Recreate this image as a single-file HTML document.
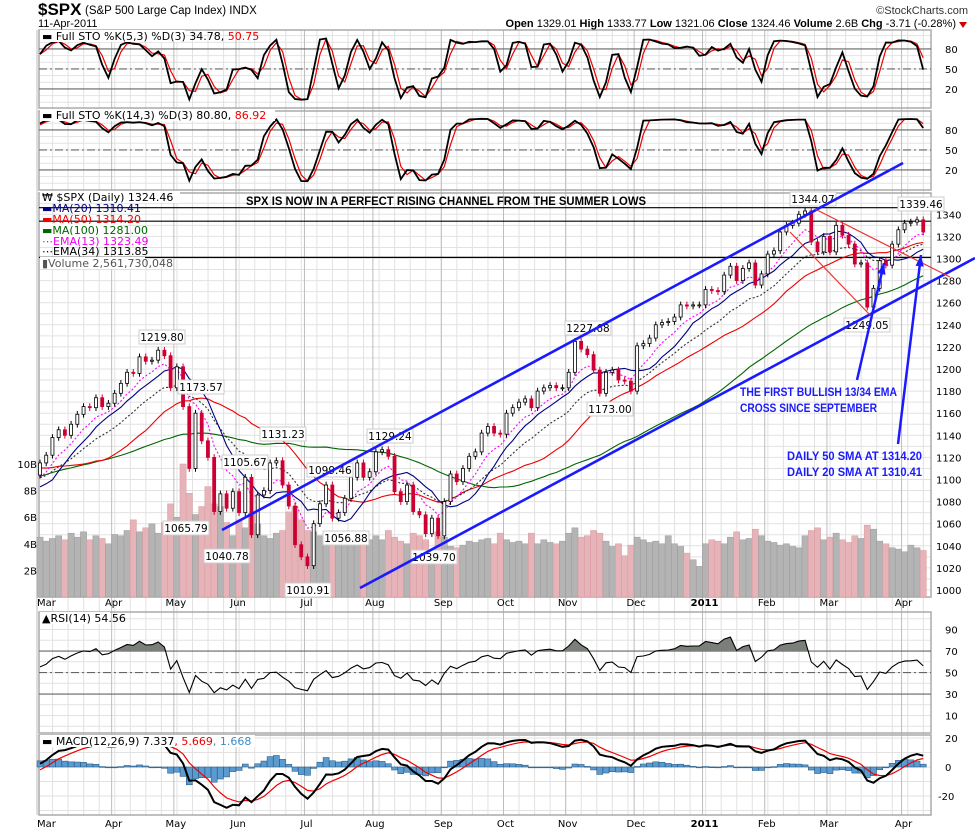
<!DOCTYPE html>
<html><head><meta charset="utf-8"><title>$SPX chart</title>
<style>
html,body{margin:0;padding:0;background:#fff;}
svg{display:block;font-family:"DejaVu Sans","Liberation Sans",sans-serif;}
.ax{font-size:10px;fill:#000;}
.hdr{font-family:"Liberation Sans",sans-serif;}
</style></head>
<body>
<svg id="chart" width="975" height="832" viewBox="0 0 975 832" xmlns="http://www.w3.org/2000/svg">
<rect x="0" y="0" width="975" height="832" fill="#fff"/>
<g id="grid"></g>
<g id="marks"></g>
<!-- header -->
<text x="38" y="15" class="hdr" font-size="17" font-weight="bold">$SPX</text>
<text x="85" y="14" class="hdr" font-size="11.5">(S&amp;P 500 Large Cap Index) INDX</text>
<text x="38" y="27" class="hdr" font-size="11">11-Apr-2011</text>
<text x="968" y="14" class="hdr" font-size="11" text-anchor="end" fill="#333">©StockCharts.com</text>
<text x="956" y="27" class="hdr" font-size="11" text-anchor="end"><tspan font-weight="bold">Open</tspan> 1329.01 <tspan font-weight="bold">High</tspan> 1333.77 <tspan font-weight="bold">Low</tspan> 1321.06 <tspan font-weight="bold">Close</tspan> 1324.46 <tspan font-weight="bold">Volume</tspan> 2.6B <tspan font-weight="bold">Chg</tspan> -3.71 (-0.28%)</text>
<path d="M959 22 L967 22 L963 28 Z" fill="#c00"/>
<g id="overlay"></g>
</svg>
<script>
// ---------- data ----------
const priorCloses = [1097,1092,1080,1066,1036,1045,1066,1069,1093,1087,1098,1109,1093,1106,1105,1091,1110,1104,1097,1099,1102,1107,1115,1104,1114,1102,1097,1110,1118,1126,1127,1115,1133,1137,1146,1148,1137,1136,1150,1116,1096,1092,1097,1073,1094,1103,1063,1071,1075,1094,1109,1105,1104];
const closes = [
1115,1122,1138,1145,1140,1150,1159,1166,1165,1174,1166,1169,
1178,1187,1197,1196,1211,1207,1208,1217,1212,1183,
1202,1166,1110,1160,1135,1120,1071,1087,1074,1089,
1070,1102,1050,1086,1090,1115,1117,1095,1076,1041,1030,
1022,1060,1078,1095,1065,1070,1083,1102,1115,1102,1107,
1125,1127,1121,1089,1080,1095,1071,1068,1051,1065,1049,
1080,1105,1098,1110,1121,1125,1142,1148,1142,1141,
1160,1165,1170,1173,1165,1180,1183,1185,1183,1183,
1197,1225,1218,1213,1199,1178,1197,1199,1190,1189,1180,
1221,1223,1228,1240,1242,1243,1247,1258,1257,1258,1258,
1272,1271,1270,1285,1293,1280,1291,1296,1276,1286,
1304,1307,1324,1330,1332,1340,1343,1315,1306,1320,
1306,1330,1321,1313,1295,1296,1256,1273,1298,1294,1313,1326,
1332,1333,1335,1324];
const volumes = [
4.5,4.2,4.4,4.6,4.3,4.8,4.5,4.9,4.3,4.6,4.4,4.0,
4.7,4.6,5.0,5.8,4.9,5.2,5.5,4.8,5.6,7.0,
6.0,10.0,7.8,6.2,6.8,8.3,7.0,6.8,5.6,4.6,
5.8,5.2,6.3,5.5,4.6,4.4,4.8,5.0,6.4,6.8,5.8,
5.0,4.9,4.6,4.7,4.8,4.3,4.6,4.2,4.5,4.4,4.3,
4.6,4.3,5.0,4.5,4.2,4.0,4.8,4.6,4.3,3.5,4.9,
4.5,3.8,3.7,3.9,4.2,4.1,4.3,4.4,4.0,4.8,
4.3,4.1,4.2,4.0,4.8,4.0,4.3,4.1,4.0,4.2,
4.8,5.2,4.5,4.6,5.0,4.8,4.2,3.8,4.0,3.1,3.9,
4.5,4.3,4.1,4.2,4.0,4.6,4.0,3.8,3.3,2.8,2.3,
4.0,4.3,4.2,4.0,4.5,4.9,4.3,4.4,5.1,4.6,
4.2,4.1,3.9,4.0,3.8,3.7,4.6,5.0,5.2,4.3,
4.5,4.8,4.3,4.1,4.6,4.4,5.4,5.1,4.2,4.0,3.7,3.6,
3.4,3.9,3.7,3.5];
const monthLabels = ["Mar","Apr","May","Jun","Jul","Aug","Sep","Oct","Nov","Dec","2011","Feb","Mar","Apr"];
const monthStarts = [0,12,22,32,43,54,65,75,85,96,107,117,127,139];
const priceTicks = [1000,1020,1040,1060,1080,1100,1120,1140,1160,1180,1200,1220,1240,1260,1280,1300,1320,1340];
const volTicks = [2,4,6,8,10];
const stoTicks = [20,50,80];
const rsiTicks = [10,30,50,70,90];
const macdTicks = [-20,0,20];

// ---------- scales ----------
const L = 39, R = 931;
const X = i => 40 + i*6.22;
const PY = p => 590 - (p-1000)*1.105;
const VY = v => 597 - v*13.3;
const S1Y = v => 102.3 - v*0.667;
const S2Y = v => 183.3 - v*0.667;
const RY = v => 726.3 - v*1.075;
const MY = v => 767 - v*1.45;

const NS = "http://www.w3.org/2000/svg";
const grid = document.getElementById('grid');
const marks = document.getElementById('marks');
const overlay = document.getElementById('overlay');
function mk(parent, tag, attrs, txt){
  const e = document.createElementNS(NS, tag);
  for (const k in attrs) e.setAttribute(k, attrs[k]);
  if (txt !== undefined) e.textContent = txt;
  parent.appendChild(e);
  return e;
}

// ---------- indicators ----------
const full = priorCloses.concat(closes);
const P = priorCloses.length;
const N = full.length;
const opens = full.map((c,i)=> i===0 ? c : full[i-1]);
const highs = full.map((c,i)=> Math.max(c,opens[i]) + 3);
const lows = full.map((c,i)=> Math.min(c,opens[i]) - 3);
function sma(a,n){ return a.map((v,i)=>{ if(i<n-1) return null; let s=0,k=0; for(let j=i-n+1;j<=i;j++){ if(a[j]===null) return null; s+=a[j]; k++;} return s/k; }); }
function ema(a,n){ const k=2/(n+1); let out=[], prev=null; a.forEach((v,i)=>{ if(v===null){out.push(null);return;} prev = prev===null? v : v*k+prev*(1-k); out.push(prev); }); return out; }
function sto(n,s,d){
  const raw = full.map((c,i)=>{ if(i<n-1) return null; let hh=-1e9,ll=1e9; for(let j=i-n+1;j<=i;j++){hh=Math.max(hh,highs[j]);ll=Math.min(ll,lows[j]);} return 100*(c-ll)/(hh-ll); });
  const k = sma(raw,s); const dd = sma(k,d); return [k,dd];
}
const ma20 = sma(full,10), ma50 = sma(full,25), ma100 = sma(full,50);
const ema13 = ema(full,7), ema34 = ema(full,17);
const [k1,d1] = sto(3,2,2);
const [k2,d2] = sto(7,2,2);
// RSI
const rsi = (function(){ const n=11; let ag=0, al=0; const out=[null]; for(let i=1;i<N;i++){ const ch=full[i]-full[i-1]; const g=Math.max(ch,0), l=Math.max(-ch,0); if(i<=n){ ag+=g/n; al+=l/n; out.push(i<n?null:100-100/(1+ag/(al||1e-9))); } else { ag=(ag*(n-1)+g)/n; al=(al*(n-1)+l)/n; out.push(100-100/(1+ag/(al||1e-9))); } } return out; })();
const e12 = ema(full,6), e26 = ema(full,13);
const macd = full.map((c,i)=> e12[i]-e26[i]);
const signal = ema(macd,5);
const hist = macd.map((m,i)=> m-signal[i]);

function pathOf(arr, yf){
  let d=""; for(let i=P;i<N;i++){ const v=arr[i]; if(v===null||v===undefined) continue; d += (d?"L":"M") + X(i-P).toFixed(1)+" "+yf(v).toFixed(1)+" "; } return d;
}

// ---------- panels ----------
const panels = [
  {name:'sto-fast-panel', top:30, bot:108},
  {name:'sto-slow-panel', top:111, bot:190},
  {name:'price-panel', top:193, bot:597},
  {name:'rsi-panel', top:612, bot:733},
  {name:'macd-panel', top:735, bot:815}
];
for (let i=0;i<143;i+=2.5){
  const ln = mk(grid,'line',{x1:X(i)-3,x2:X(i)-3,y1:30,y2:815,stroke:'#e2e2e2','stroke-width':1});
  
  
}
for (let p=1000;p<=1350;p+=10){
  const ln = mk(grid,'line',{x1:L,x2:R,y1:PY(p),y2:PY(p),stroke:'#e2e2e2'});
  
  
}
for (let v=0;v<=100;v+=10){
  [S1Y,S2Y,RY].forEach(f=>{ const y=f(v); if(y<31) return;
    const ln = mk(grid,'line',{x1:L,x2:R,y1:y,y2:y,stroke:'#e2e2e2'});
    
    
  });
}
for (let v=-30;v<=30;v+=10){ const y=MY(v); if(y<736||y>814) continue;
  const ln = mk(grid,'line',{x1:L,x2:R,y1:y,y2:y,stroke:'#e2e2e2'});
  
  
}
monthStarts.forEach((s,j)=>{
  const x = X(s)-3;
  const ln = mk(grid,'line',{x1:x,x2:x,y1:30,y2:815,stroke:'#bdbdbd'});
  
  
  [606,827].forEach(y=>{
    const t = mk(grid,'text',{x:x+(j===0?0:2),y:y,class:'ax','font-size':11,'font-weight':monthLabels[j]==='2011'?'bold':'normal','text-anchor':j===0?'start':'middle'}, monthLabels[j]);
    
    
  });
});
panels.forEach(p=>{
  const r = mk(grid,'rect',{x:L,y:p.top,width:R-L,height:p.bot-p.top,fill:'none',stroke:'#aaa','stroke-width':1.5});
  
  
});

// ---------- volume ----------
for (let j=0;j<closes.length;j++){
  const i=j+P; const down = full[i]<full[i-1];
  const v = volumes[j];
  const r = mk(marks,'rect',{x:X(j)-3.1,y:VY(v),width:6.2,height:597-VY(v),fill:down?'#e6b4b8':'#b4b4b4',stroke:down?'#d79a9f':'#9a9a9a','stroke-width':0.5});
  
  
}
volTicks.forEach(v=>{
  const t = mk(marks,'text',{x:37,y:VY(v)+4,class:'ax','text-anchor':'end'}, v+'B');
  
  
});

[1346,1333.77,1301].forEach(p=>{
  const ln = mk(marks,'line',{x1:L,x2:R,y1:PY(p),y2:PY(p),stroke:'#000','stroke-width':1.2});
  
  
});

// ---------- moving averages ----------
const maDefs = [
  [ma100,'#006600','', 'ma100-line'],
  [ma50,'#ee0000','', 'ma50-line'],
  [ema34,'#333','2,2','ema34-line'],
  [ma20,'#000080','', 'ma20-line'],
  [ema13,'#ff00ff','2,2','ema13-line']
];
maDefs.forEach(d=>{
  const pth = mk(marks,'path',{d:pathOf(d[0],PY),fill:'none',stroke:d[1],'stroke-width':1.1,'stroke-dasharray':d[2]||'none'});
  
  
});

// ---------- candles ----------
for (let j=0;j<closes.length;j++){
  const i=j+P; const o=opens[i], c=full[i]; const down = c<o;
  const x = X(j);
  const w = mk(marks,'line',{x1:x,x2:x,y1:PY(highs[i]),y2:PY(lows[i]),stroke:down?'#cc0033':'#000','stroke-width':1});
  
  
  const top = PY(Math.max(o,c)), bh = Math.max(1, Math.abs(PY(o)-PY(c)));
  const b = mk(marks,'rect',{x:x-1.5,y:top,width:3,height:bh,fill:down?'#cc0033':'#fff',stroke:down?'#cc0033':'#000','stroke-width':0.8});
  
  
}
priceTicks.forEach(p=>{
  const t = mk(marks,'text',{x:936,y:PY(p)+4,class:'ax','font-size':11}, p);
  
  
});

// ---------- stochastics ----------
[[S1Y,k1,d1,'sto-fast'],[S2Y,k2,d2,'sto-slow']].forEach(s=>{
  const f=s[0];
  stoTicks.forEach(v=>{
    const ln = mk(marks,'line',{x1:L,x2:R,y1:f(v),y2:f(v),stroke:'#666','stroke-width':1.2,'stroke-dasharray':v===50?'8,3,2,3':'none'});
    
    
    const t = mk(marks,'text',{x:945,y:f(v)+4,class:'ax','font-size':11}, v);
    
    
  });
  const dl = mk(marks,'path',{d:pathOf(s[2],f),fill:'none',stroke:'#ee0000','stroke-width':1.2});
  
  
  const kl = mk(marks,'path',{d:pathOf(s[1],f),fill:'none',stroke:'#000','stroke-width':1.8});
  
  
});

// ---------- RSI ----------
rsiTicks.forEach(v=>{
  if (v===30||v===50||v===70){
    const ln = mk(marks,'line',{x1:L,x2:R,y1:RY(v),y2:RY(v),stroke:'#666','stroke-width':1.2,'stroke-dasharray':v===50?'8,3,2,3':'none'});
    
    
  }
  const t = mk(marks,'text',{x:945,y:RY(v)+4,class:'ax','font-size':11}, v);
  
  
});
(function(){
  const defs = mk(marks,'defs',{});
  const cp = mk(defs,'clipPath',{id:'rsiHi'}); mk(cp,'rect',{x:L,y:600,width:R-L,height:RY(70)-600});
  const cp2 = mk(defs,'clipPath',{id:'rsiLo'}); mk(cp2,'rect',{x:L,y:RY(30),width:R-L,height:40});
  const line = pathOf(rsi,RY);
  const area = line + "L"+X(N-1-P)+" "+RY(70)+" L"+X(0)+" "+RY(70)+" Z";
  const a1 = mk(marks,'path',{d:area,fill:'#7a7f7a','clip-path':'url(#rsiHi)'});
  
  
  const area2 = line + "L"+X(N-1-P)+" "+RY(30)+" L"+X(0)+" "+RY(30)+" Z";
  const a2 = mk(marks,'path',{d:area2,fill:'#7a7f7a','clip-path':'url(#rsiLo)'});
  
  
  const rl = mk(marks,'path',{d:line,fill:'none',stroke:'#000','stroke-width':1.1});
  
  
})();

// ---------- MACD ----------
for (let j=0;j<closes.length;j++){
  const h = hist[j+P]; const y0=MY(0), y1=MY(h);
  const r = mk(marks,'rect',{x:X(j)-3,y:Math.min(y0,y1),width:6,height:Math.max(0.8,Math.abs(y1-y0)),fill:'#5b9bd0',stroke:'#2c5f8a','stroke-width':0.6});
  
  
}
const sig = mk(marks,'path',{d:pathOf(signal,MY),fill:'none',stroke:'#ee0000','stroke-width':1.2});


const ml = mk(marks,'path',{d:pathOf(macd,MY),fill:'none',stroke:'#000','stroke-width':2});


macdTicks.forEach(v=>{
  const t = mk(marks,'text',{x:v<0?938:945,y:MY(v)+4,class:'ax','font-size':11}, v);
  
  
});

// ---------- annotations ----------
function legend(x,y,w,parts,name){
  const r = mk(overlay,'rect',{x:x-2,y:y-10,width:w,height:12,fill:'#fff'});
  
  
  const t = mk(overlay,'text',{x:x,y:y,'font-size':11});
  
  
  parts.forEach(p=>{ const s=mk(t,'tspan',{fill:p[1]},p[0]); });
}
legend(42,40,145,[["▬ Full STO %K(5,3) %D(3) 34.78, ","#000"],["50.75","#e00"]],'sto-fast-legend');
legend(42,119,235,[["▬ Full STO %K(14,3) %D(3) 80.80, ","#000"],["86.92","#e00"]],'sto-slow-legend');
legend(42,201,140,[["₩ $SPX (Daily) 1324.46","#000"]],'price-legend');
legend(42,212,0,[["▬MA(20) 1310.41","#000080"]],'ma20-legend');
legend(42,223,0,[["▬MA(50) 1314.20","#e00"]],'ma50-legend');
legend(42,234,80,[["▬MA(100) 1281.00","#006600"]],'ma100-legend');
legend(42,245,80,[["⋯EMA(13) 1323.49","#e0e"]],'ema13-legend');
legend(42,255,0,[["⋯EMA(34) 1313.85","#000"]],'ema34-legend');
legend(42,267,105,[["▮Volume 2,561,730,048","#555"]],'volume-legend');
legend(42,622,70,[["▲RSI(14) 54.56","#000"]],'rsi-legend');
legend(42,745,215,[["▬ MACD(12,26,9) 7.337","#000"],[", 5.669","#e00"],[", 1.668","#3b8ccb"]],'macd-legend');

const t1 = mk(overlay,'text',{x:246,y:205,'font-family':'Liberation Sans','font-weight':'bold','font-size':12,textLength:400,lengthAdjust:'spacingAndGlyphs'},'SPX IS NOW IN A PERFECT RISING CHANNEL FROM THE SUMMER LOWS');



const callouts = [["1219.80",162,337],["1173.57",201,387],["1131.23",283,434],["1105.67",245,462],["1099.46",330,470],["1129.24",390,436],["1065.79",186,528],["1040.78",227,556],["1056.88",346,538],["1010.91",308,590],["1039.70",434,557],["1227.68",588,328],["1173.00",610,409],["1344.07",813,199],["1249.05",867,325],["1339.46",921,204]];
callouts.forEach(c=>{
  const r = mk(overlay,'rect',{x:c[1]-23,y:c[2]-7,width:46,height:14,fill:'#fff',stroke:'#ccc'});
  
  
  const t = mk(overlay,'text',{x:c[1],y:c[2]+4,'font-size':10.5,'text-anchor':'middle'},c[0]);
  
  
});

const ch1 = mk(overlay,'line',{x1:222,y1:530,x2:903,y2:163,stroke:'#1a1aff','stroke-width':2.6});


const ch2 = mk(overlay,'line',{x1:360,y1:588,x2:975,y2:258,stroke:'#1a1aff','stroke-width':2.6});


const rd1 = mk(overlay,'line',{x1:815,y1:209,x2:950,y2:277,stroke:'#ee3333','stroke-width':1.2});


const rd2 = mk(overlay,'line',{x1:790,y1:232,x2:870,y2:315,stroke:'#ee3333','stroke-width':1.2});



function arrow(x1,y1,x2,y2,name){
  const ln = mk(overlay,'line',{x1:x1,y1:y1,x2:x2,y2:y2,stroke:'#1a1aff','stroke-width':2.5});
  
  
  const a=Math.atan2(y2-y1,x2-x1), s=12;
  const p=[[x2,y2],[x2-s*Math.cos(a-0.35),y2-s*Math.sin(a-0.35)],[x2-s*Math.cos(a+0.35),y2-s*Math.sin(a+0.35)]];
  const h = mk(overlay,'polygon',{points:p.map(q=>q.join(',')).join(' '),fill:'#1a1aff'});
  
  
}
arrow(857,380,884,263,'ema-cross-arrow');
arrow(898,444,921,255,'sma-arrow');

const bt = [["THE FIRST BULLISH 13/34 EMA",740,396,157],["CROSS SINCE SEPTEMBER",740,412,137],["DAILY 50 SMA AT 1314.20",787,460,135],["DAILY 20 SMA AT 1310.41",787,476,135]];
bt.forEach(b=>{
  const t = mk(overlay,'text',{x:b[1],y:b[2],'font-family':'Liberation Sans','font-weight':'bold','font-size':12,fill:'#1a1aff',textLength:b[3],lengthAdjust:'spacingAndGlyphs'},b[0]);
  
  
});
</script>
</body></html>
